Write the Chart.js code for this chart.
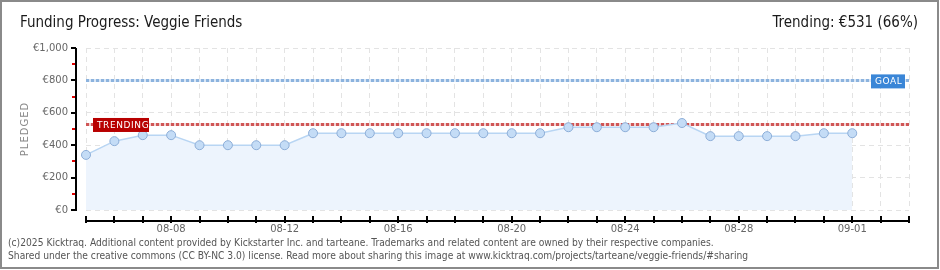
<!DOCTYPE html>
<html>
<head>
<meta charset="utf-8">
<script src="https://cdn.jsdelivr.net/npm/chart.js@4"></script>
<style>
    body { margin: 0; background: #fff; }
    #wrap { position: relative; width: 940px; height: 270px; overflow: hidden; font-family: "DejaVu Sans Condensed", "DejaVu Sans", sans-serif; }
    #frame { position: absolute; left: 0; top: 0; width: 939px; height: 269px; box-sizing: border-box; border: 2px solid #8a8a8a; pointer-events: none; }
    #chart { position: absolute; left: 0; top: 0; }
    .title { position: absolute; top: 13px; font-size: 15px; color: #1a1a1a; white-space: nowrap; }
    #footer { position: absolute; left: 8px; top: 236px; font-size: 10.2px; line-height: 13px; color: #555; white-space: nowrap; }
</style>
</head>
<body>
<div id="wrap">
    <canvas id="chart" width="940" height="270"></canvas>
    <div class="title" style="left:20px;">Funding Progress: Veggie Friends</div>
    <div class="title" style="right:22px;">Trending: €531 (66%)</div>
    <div id="footer">(c)2025 Kicktraq. Additional content provided by Kickstarter Inc. and tarteane. Trademarks and related content are owned by their respective companies.<br>Shared under the creative commons (CC BY-NC 3.0) license. Read more about sharing this image at www.kicktraq.com/projects/tarteane/veggie-friends/#sharing</div>
    <div id="frame"></div>
</div>
<script>
// x axis days (08-05 .. 09-03), data stops at 09-01
const days = [
    "08-05", "08-06", "08-07", "08-08", "08-09", "08-10", "08-11", "08-12", "08-13", "08-14",
    "08-15", "08-16", "08-17", "08-18", "08-19", "08-20", "08-21", "08-22", "08-23", "08-24",
    "08-25", "08-26", "08-27", "08-28", "08-29", "08-30", "08-31", "09-01", "09-02", "09-03"
];
const pledged = [
    340, 425, 462, 462, 400, 400, 400, 400, 474, 474,
    474, 474, 474, 474, 474, 474, 474, 511, 511, 511,
    511, 537, 456, 456, 456, 456, 474, 474
];
const shownDays = ["08-08", "08-12", "08-16", "08-20", "08-24", "08-28", "09-01"];
const yTicks = [0, 200, 400, 600, 800, 1000];
const goal = 800;
const trending = 531;

function tag(ctx, x, y, w, h, color, text) {
    ctx.fillStyle = color;
    ctx.fillRect(x, y, w, h);
    ctx.fillStyle = "#fff";
    ctx.font = "9px 'DejaVu Sans'";
    ctx.letterSpacing = "0.6px";
    ctx.textBaseline = "middle";
    ctx.textAlign = "left";
    ctx.fillText(text, x + 4, y + h / 2 + 0.5);
    ctx.letterSpacing = "0px";
}

const markers = {
    id: "markers",
    beforeDatasetsDraw(chart) {
        const { ctx, chartArea } = chart;
        const y = chart.scales.y;
        ctx.save();
        ctx.lineWidth = 3;
        [[goal, "#d9e6f5", "#8cb3de"], [trending, "#f0d2d2", "#d05656"]].forEach(([v, light, c]) => {
            const py = Math.round(y.getPixelForValue(v)) + 0.5;
            ctx.setLineDash([]);
            ctx.strokeStyle = light;
            ctx.beginPath();
            ctx.moveTo(chartArea.left, py);
            ctx.lineTo(chartArea.right, py);
            ctx.stroke();
            ctx.setLineDash([3, 2]);
            ctx.strokeStyle = c;
            ctx.beginPath();
            ctx.moveTo(chartArea.left, py);
            ctx.lineTo(chartArea.right, py);
            ctx.stroke();
        });
        ctx.restore();
    },
    afterDatasetsDraw(chart) {
        const { ctx, chartArea } = chart;
        const x = chart.scales.x;
        const y = chart.scales.y;
        ctx.save();
        ctx.setLineDash([]);
        const ty = y.getPixelForValue(trending);
        tag(ctx, chartArea.left + 7, ty - 6, 56, 14, "#b80000", "TRENDING");
        const gy = y.getPixelForValue(goal);
        tag(ctx, chartArea.right - 38, gy - 6, 34, 14, "#3a86d7", "GOAL");

        // y axis
        const ax = chartArea.left - 10;
        ctx.fillStyle = "#000";
        ctx.fillRect(ax - 1, chartArea.top, 2, chartArea.bottom - chartArea.top + 1);
        yTicks.forEach(v => {
            const py = Math.round(y.getPixelForValue(v));
            ctx.fillRect(ax - 5, py - 1, 5, 2);
        });
        ctx.fillStyle = "#e00000";
        yTicks.slice(1).forEach(v => {
            const py = Math.round(y.getPixelForValue(v - 100));
            ctx.fillRect(ax - 4, py - 1, 3, 2);
        });

        // x axis
        const ay = chartArea.bottom + 11;
        ctx.fillStyle = "#000";
        ctx.fillRect(chartArea.left - 1, ay - 1, chartArea.right - chartArea.left + 2, 2);
        days.forEach((d, i) => {
            const px = Math.round(x.getPixelForValue(i));
            ctx.fillRect(px - 1, ay - 5, 2, 7);
        });

        // y title
        ctx.translate(25, (chartArea.top + chartArea.bottom) / 2);
        ctx.rotate(-Math.PI / 2);
        ctx.fillStyle = "#888";
        ctx.font = "10px 'DejaVu Sans'";
        ctx.textAlign = "center";
        ctx.textBaseline = "middle";
        ctx.letterSpacing = "1px";
        ctx.fillText("PLEDGED", 0, 0);
        ctx.restore();
    }
};

new Chart(document.getElementById("chart"), {
    type: "line",
    data: {
        labels: days,
        datasets: [{
            data: pledged,
            borderColor: "#b8d5f3",
            borderWidth: 1.5,
            backgroundColor: "#edf4fd",
            fill: "origin",
            tension: 0,
            pointRadius: 4.5,
            pointBackgroundColor: "#c4dcf6",
            pointBorderColor: "#8daed8",
            pointBorderWidth: 1
        }]
    },
    options: {
        responsive: false,
        animation: false,
        layout: { padding: { left: 0, top: 48, right: 31, bottom: 0 } },
        plugins: { legend: { display: false }, tooltip: { enabled: false } },
        scales: {
            x: {
                offset: false,
                afterFit: s => { s.height = 60; },
                grid: { color: "#e3e3e3", drawTicks: false },
                border: { display: false, dash: [5, 4] },
                ticks: {
                    autoSkip: false,
                    maxRotation: 0,
                    padding: 13,
                    color: "#666",
                    font: { family: "DejaVu Sans", size: 10 },
                    callback: function (v) {
                        const l = this.getLabelForValue(v);
                        return shownDays.includes(l) ? l : "";
                    }
                }
            },
            y: {
                min: 0,
                max: 1000,
                afterFit: s => { s.width = 86; },
                grid: { color: "#e3e3e3", drawTicks: false },
                border: { display: false, dash: [5, 4] },
                ticks: {
                    stepSize: 200,
                    padding: 18,
                    color: "#666",
                    font: { family: "DejaVu Sans", size: 10 },
                    callback: v => "€" + v.toLocaleString("en-US")
                }
            }
        }
    },
    plugins: [markers]
});
</script>
</body>
</html>
